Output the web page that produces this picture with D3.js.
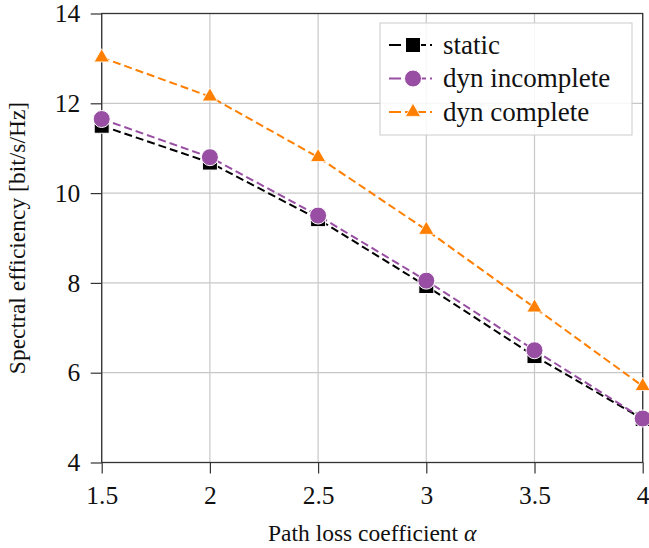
<!DOCTYPE html>
<html>
<head>
<meta charset="utf-8">
<script src="https://cdn.jsdelivr.net/npm/d3@7"></script>
<style>
  body { margin: 0; background: #fff; }
  text { font-family: "Liberation Serif", "DejaVu Serif", serif; fill: #111; }
</style>
</head>
<body>
<div id="chart"></div>
<script>
// values
const alphas = [1.5, 2, 2.5, 3, 3.5, 4];
const staticEff = [11.5, 10.68, 9.42, 7.93, 6.37, 4.97];
const dynIncomplete = [11.65, 10.8, 9.5, 8.05, 6.5, 4.98];
const dynComplete = [13.02, 12.15, 10.8, 9.18, 7.45, 5.7];
const seriesNames = ['static', 'dyn incomplete', 'dyn complete'];
const xTicks = [1.5, 2, 2.5, 3, 3.5, 4];
const yTicks = [4, 6, 8, 10, 12, 14];

const W = 649, H = 548;
const margin = { top: 13.5, right: 6.3, bottom: 85.5, left: 101.7 };
const width = W - margin.left - margin.right;
const height = H - margin.top - margin.bottom;

const svg = d3.select('#chart').append('svg')
    .attr('width', W)
    .attr('height', H);

const g = svg.append('g')
    .attr('transform', 'translate(' + margin.left + ',' + margin.top + ')');

const x = d3.scaleLinear().domain([1.5, 4]).range([0, width]);
const y = d3.scaleLinear().domain([4, 14]).range([height, 0]);

// grid
g.append('g').selectAll('line').data(xTicks).join('line')
    .attr('x1', d => x(d)).attr('x2', d => x(d))
    .attr('y1', 0).attr('y2', height)
    .attr('stroke', '#c8c8c8').attr('stroke-width', 1.2);
g.append('g').selectAll('line').data(yTicks).join('line')
    .attr('y1', d => y(d)).attr('y2', d => y(d))
    .attr('x1', 0).attr('x2', width)
    .attr('stroke', '#c8c8c8').attr('stroke-width', 1.2);

// axes
const xAxis = g.append('g')
    .attr('transform', 'translate(0,' + height + ')')
    .call(d3.axisBottom(x).tickValues(xTicks).tickSize(11).tickPadding(12).tickFormat(d3.format('')));
const yAxis = g.append('g')
    .call(d3.axisLeft(y).tickValues(yTicks).tickSize(11).tickPadding(10.5).tickFormat(d3.format('')));
[xAxis, yAxis].forEach(a => {
    a.select('.domain').remove();
    a.selectAll('.tick line').attr('stroke', '#333').attr('stroke-width', 1.2);
    a.selectAll('.tick text')
        .style('font-family', '"Liberation Serif", serif')
        .style('font-size', '25.5px')
        .attr('fill', '#111');
});

// frame
g.append('rect')
    .attr('width', width).attr('height', height)
    .attr('fill', 'none').attr('stroke', '#333').attr('stroke-width', 1.3);

// series
const colors = ['#000000', '#984ea3', '#ff7f00'];
const allSeries = [staticEff, dynIncomplete, dynComplete];
const line = d3.line().x((d, i) => x(alphas[i])).y(d => y(d));

function drawMarker(sel, k) {
    if (k === 0) {
        sel.append('rect')
            .attr('x', -7.5).attr('y', -7.5).attr('width', 15).attr('height', 15)
            .attr('fill', colors[k]).attr('stroke', '#fff').attr('stroke-width', 1);
    } else if (k === 1) {
        sel.append('circle').attr('r', 8.5)
            .attr('fill', colors[k]).attr('stroke', '#fff').attr('stroke-width', 1);
    } else {
        sel.append('path')
            .attr('d', d3.symbol(d3.symbolTriangle, 100)())
            .attr('fill', colors[k]).attr('stroke', '#fff').attr('stroke-width', 0.8);
    }
}

const plot = g.append('g');
allSeries.forEach((vals, k) => {
    plot.append('path')
        .datum(vals)
        .attr('d', line)
        .attr('fill', 'none')
        .attr('stroke', colors[k])
        .attr('stroke-width', 2)
        .attr('stroke-dasharray', '8,4');
});
allSeries.forEach((vals, k) => {
    vals.forEach((v, i) => {
        const m = plot.append('g')
            .attr('transform', 'translate(' + x(alphas[i]) + ',' + y(v) + ')');
        drawMarker(m, k);
    });
});

// legend
const lx = 380 - margin.left, ly = 23 - margin.top;
const legend = g.append('g').attr('transform', 'translate(' + lx + ',' + ly + ')');
legend.append('rect')
    .attr('width', 252).attr('height', 112)
    .attr('fill', '#fff').attr('fill-opacity', 0.85)
    .attr('stroke', '#ccc').attr('stroke-width', 1);
seriesNames.forEach((name, k) => {
    const row = legend.append('g').attr('transform', 'translate(0,' + (22 + k * 33.5) + ')');
    row.append('line')
        .attr('x1', 9).attr('x2', 57)
        .attr('stroke', colors[k]).attr('stroke-width', 2)
        .attr('stroke-dasharray', '12,4,8,5,8,4,2,20');
    const m = row.append('g').attr('transform', 'translate(33,0)');
    drawMarker(m, k);
    row.append('text')
        .attr('x', 63).attr('y', 8.5)
        .style('font-size', '27px')
        .text(name);
});

// axis titles
svg.append('text')
    .attr('x', margin.left + width / 2).attr('y', 541)
    .attr('text-anchor', 'middle')
    .style('font-size', '23.5px')
    .html('Path loss coefficient <tspan font-style="italic">α</tspan>');
svg.append('text')
    .attr('transform', 'translate(25,' + (margin.top + height / 2) + ') rotate(-90)')
    .attr('text-anchor', 'middle')
    .style('font-size', '23.5px')
    .text('Spectral efficiency [bit/s/Hz]');
</script>
</body>
</html>
